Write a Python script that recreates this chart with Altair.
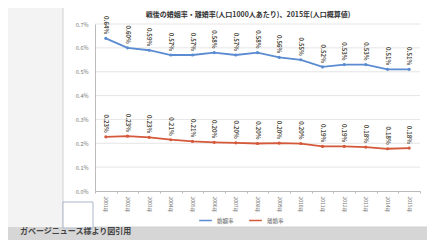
import altair as alt
import pandas as pd

years = ["2001年", "2002年", "2003年", "2004年", "2005年", "2006年", "2007年", "2008年",
         "2009年", "2010年", "2011年", "2012年", "2013年", "2014年", "2015年"]
# rates in percent of population
marriage = [0.64, 0.60, 0.59, 0.57, 0.57, 0.58, 0.57, 0.58, 0.56, 0.55, 0.52, 0.53, 0.53, 0.51, 0.51]
divorce = [0.227, 0.230, 0.225, 0.215, 0.208, 0.204, 0.202, 0.199, 0.201, 0.199, 0.187, 0.187, 0.184, 0.177, 0.180]
series_names = ["婚姻率", "離婚率"]
series_colors = ["#5b8bd0", "#d4583a"]
yticks = [0.0, 0.1, 0.2, 0.3, 0.4, 0.5, 0.6, 0.7]
title_text = "戦後の婚姻率・離婚率(人口1000人あたり)、2015年(人口概算値)"
caption_text = "ガベージニュース様より図引用"

FONT = "Noto Sans CJK JP"

df = pd.DataFrame({
    "year": years * 2,
    "series": [series_names[0]] * len(years) + [series_names[1]] * len(years),
    "value": [v / 100 for v in marriage + divorce],
})
grid_df = pd.DataFrame({"value": [t / 100 for t in yticks[1:]]})
dummy = pd.DataFrame({"a": [0]})

YDOM = [0, yticks[-1] / 100]
yscale = alt.Scale(domain=YDOM, nice=False)
xscale = alt.Scale(type="band", paddingInner=0, paddingOuter=0)

xaxis = alt.Axis(title=None, labelAngle=90, labelFontSize=5, labelColor="#777777",
                 labelFont=FONT, domainColor="#bbbbbb", tickColor="#bbbbbb",
                 tickSize=2, tickBand="extent", labelPadding=3, zindex=1)
yaxis = alt.Axis(title=None, values=[t / 100 for t in yticks], format=".1%",
                 labelFontSize=5.5, labelOverlap=False,
                 labelColor="#777777", labelFont=FONT, ticks=False, grid=False,
                 domainColor="#bbbbbb", labelPadding=7, zindex=1)

xenc = alt.X("year:N", sort=years, bandPosition=0.5, scale=xscale, axis=xaxis)
yenc = alt.Y("value:Q", scale=yscale, axis=yaxis)

color = alt.Color("series:N", scale=alt.Scale(domain=series_names, range=series_colors),
                  legend=alt.Legend(title=None, orient="none", legendX=103, legendY=189,
                                    direction="horizontal", symbolType="stroke",
                                    symbolStrokeWidth=1.5, symbolSize=160,
                                    labelFontSize=5.5, labelFont=FONT, labelColor="#666666",
                                    columnPadding=12))

bottom_band = alt.Chart(dummy).mark_rect(fill="#d6d6d6").encode(
    x=alt.value(-87), x2=alt.value(332), y=alt.value(203), y2=alt.value(216))
panel = alt.Chart(dummy).mark_rect(fill="white", stroke="#d0d0d0", strokeWidth=1).encode(
    x=alt.value(-32), x2=alt.value(335), y=alt.value(-21), y2=alt.value(203))
small_box = alt.Chart(dummy).mark_rect(fill="white", stroke="#a9b7cb", strokeWidth=1).encode(
    x=alt.value(-32), x2=alt.value(-2), y=alt.value(178), y2=alt.value(204))
caption = alt.Chart(dummy).mark_text(text=caption_text, align="left", baseline="middle",
                                     fontSize=8, fontWeight="bold", font=FONT,
                                     color="#444444").encode(
    x=alt.value(-75), y=alt.value(208))
title = alt.Chart(dummy).mark_text(text=title_text, align="center", baseline="middle",
                                   fontSize=7, fontWeight="bold", font=FONT,
                                   color="#333333").encode(
    x=alt.value(153), y=alt.value(-9))

grid = alt.Chart(grid_df).mark_rule(color="#e0e0e0", strokeWidth=0.8).encode(
    y=alt.Y("value:Q", scale=yscale, axis=yaxis))

lines = alt.Chart(df).mark_line(
    strokeWidth=1.8,
    point=alt.OverlayMarkDef(size=10, filled=True)).encode(x=xenc, y=yenc, color=color)

labels = alt.Chart(df).mark_text(angle=90, align="right", baseline="middle", fontSize=6,
                                 fontWeight="bold", font=FONT, color="#4d4a3c",
                                 yOffset=-4).encode(
    x=xenc, y=yenc,
    text=alt.Text("value:Q", format=".2%"))

chart = alt.layer(bottom_band, panel, small_box, caption, title, grid, lines, labels).properties(
    width=325, height=167,
    autosize=alt.AutoSizeParams(type="none"),
    padding={"left": 87, "top": 16, "right": 7, "bottom": 49},
    background="#f3f3f3",
).configure_view(strokeWidth=0)

chart.save("out.html", embed_options={"renderer": "svg", "actions": False})
